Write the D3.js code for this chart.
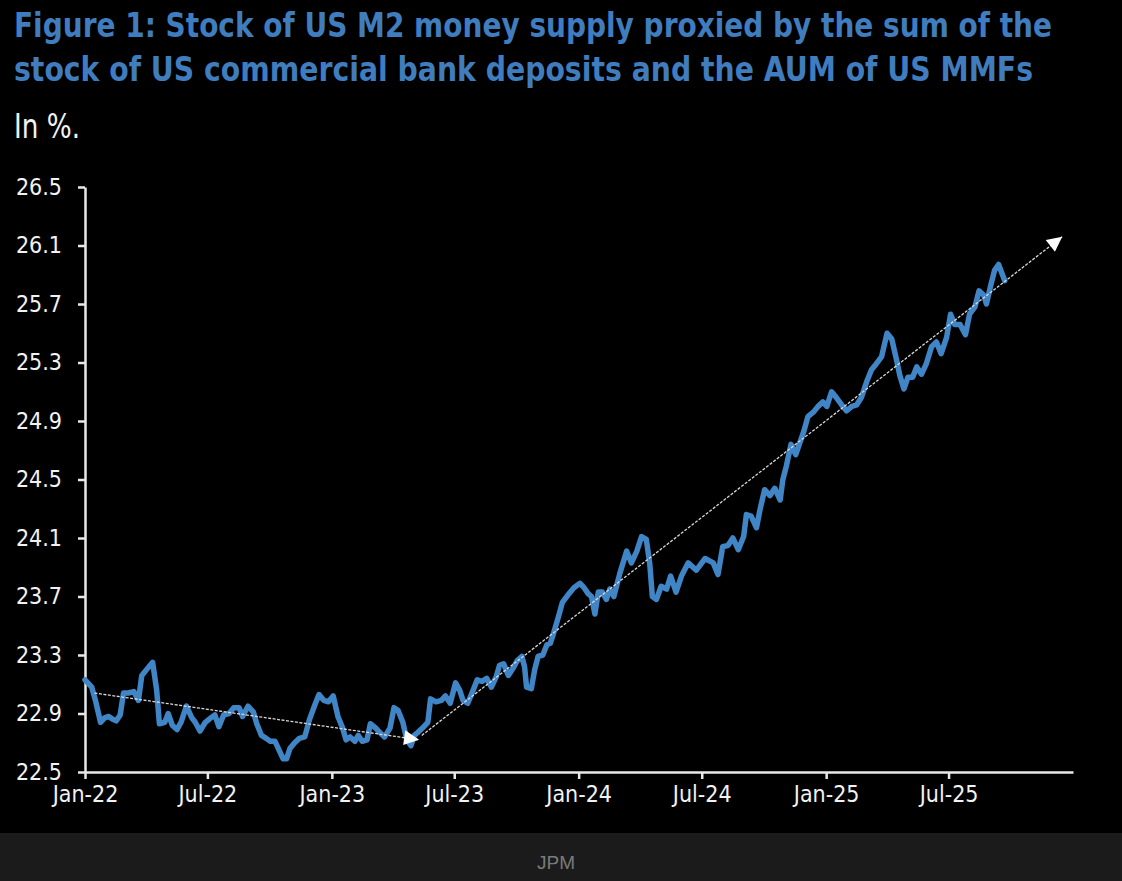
<!DOCTYPE html>
<html>
<head>
<meta charset="utf-8">
<script src="https://cdn.jsdelivr.net/npm/d3@7"></script>
<style>
  body { margin: 0; background: #000; }
  svg { display: block; }
  .narrow { font-family: "Liberation Sans Narrow", "Arial Narrow", "DejaVu Sans Condensed", sans-serif; }
</style>
</head>
<body>
<div id="chart"></div>
<script>
// Data
// =================================
var titleLines = [
  "Figure 1: Stock of US M2 money supply proxied by the sum of the",
  "stock of US commercial bank deposits and the AUM of US MMFs"
];
var subtitle = "In %.";
var source = "JPM";

var dates = [
  "2022-01-01","2022-01-11","2022-01-17","2022-01-24","2022-01-30","2022-02-05","2022-02-11","2022-02-16",
  "2022-02-22","2022-02-27","2022-03-06","2022-03-14","2022-03-21","2022-03-26","2022-04-02","2022-04-11",
  "2022-04-17","2022-04-21","2022-04-29","2022-05-04","2022-05-10","2022-05-17","2022-05-23","2022-05-31",
  "2022-06-08","2022-06-13","2022-06-20","2022-06-28","2022-07-06","2022-07-12","2022-07-18","2022-07-25",
  "2022-08-02","2022-08-09","2022-08-17","2022-08-22","2022-08-30","2022-09-07","2022-09-12","2022-09-19",
  "2022-09-26","2022-10-02","2022-10-09","2022-10-15","2022-10-21","2022-10-26","2022-10-31","2022-11-07",
  "2022-11-14","2022-11-22","2022-11-29","2022-12-07","2022-12-13","2022-12-20","2022-12-27","2023-01-03",
  "2023-01-10","2023-01-17","2023-01-22","2023-01-28","2023-02-04","2023-02-09","2023-02-15","2023-02-22",
  "2023-02-27","2023-03-07","2023-03-13","2023-03-20","2023-03-28","2023-04-03","2023-04-09","2023-04-16",
  "2023-04-22","2023-04-28","2023-05-03","2023-05-08","2023-05-17","2023-05-23","2023-05-27","2023-06-04",
  "2023-06-12","2023-06-18","2023-06-25","2023-07-03","2023-07-09","2023-07-14","2023-07-21","2023-07-29",
  "2023-08-04","2023-08-11","2023-08-18","2023-08-25","2023-09-01","2023-09-06","2023-09-12","2023-09-19",
  "2023-09-26","2023-10-02","2023-10-09","2023-10-13","2023-10-16","2023-10-23","2023-10-28","2023-11-02",
  "2023-11-09","2023-11-15","2023-11-20","2023-11-25","2023-12-02","2023-12-08","2023-12-16","2023-12-25",
  "2024-01-03","2024-01-09","2024-01-15","2024-01-20","2024-01-25","2024-01-30","2024-02-05","2024-02-11",
  "2024-02-16","2024-02-22","2024-03-02","2024-03-12","2024-03-19","2024-03-27","2024-04-03","2024-04-10",
  "2024-04-15","2024-04-19","2024-04-25","2024-05-02","2024-05-10","2024-05-16","2024-05-24","2024-06-01",
  "2024-06-11","2024-06-23","2024-07-06","2024-07-18","2024-07-25","2024-08-01","2024-08-09","2024-08-16",
  "2024-08-24","2024-09-01","2024-09-05","2024-09-12","2024-09-20","2024-09-25","2024-10-02","2024-10-10",
  "2024-10-17","2024-10-25","2024-10-29","2024-11-03","2024-11-10","2024-11-17","2024-11-23","2024-11-29",
  "2024-12-05","2024-12-13","2024-12-20","2024-12-27","2025-01-02","2025-01-09","2025-01-16","2025-01-24",
  "2025-01-31","2025-02-08","2025-02-15","2025-02-22","2025-03-02","2025-03-09","2025-03-16","2025-03-24",
  "2025-04-01","2025-04-08","2025-04-15","2025-04-20","2025-04-26","2025-05-02","2025-05-09","2025-05-15",
  "2025-05-22","2025-05-29","2025-06-06","2025-06-13","2025-06-20","2025-06-28","2025-07-04","2025-07-10",
  "2025-07-18","2025-07-26","2025-08-01","2025-08-09","2025-08-15","2025-08-22","2025-08-26","2025-09-01",
  "2025-09-07","2025-09-13","2025-09-17","2025-09-22"
];

var m2Share = [
  23.13,23.08,22.98,22.84,22.87,22.88,22.86,22.85,
  22.89,23.04,23.04,23.05,22.99,23.16,23.20,23.25,
  23.06,22.83,22.84,22.90,22.82,22.79,22.84,22.95,
  22.87,22.84,22.78,22.84,22.87,22.89,22.81,22.89,
  22.90,22.94,22.94,22.88,22.95,22.91,22.83,22.75,
  22.73,22.71,22.71,22.65,22.59,22.59,22.66,22.70,
  22.73,22.74,22.86,22.96,23.03,22.99,22.98,23.02,
  22.88,22.80,22.72,22.74,22.71,22.75,22.71,22.72,
  22.83,22.80,22.77,22.74,22.80,22.94,22.92,22.84,
  22.72,22.68,22.75,22.77,22.81,22.84,23.00,22.98,
  22.99,23.02,22.97,23.11,23.06,22.99,22.97,23.06,
  23.13,23.12,23.14,23.08,23.15,23.23,23.24,23.16,
  23.21,23.26,23.29,23.22,23.08,23.07,23.20,23.29,
  23.30,23.37,23.38,23.45,23.56,23.66,23.71,23.76,
  23.79,23.76,23.72,23.70,23.58,23.73,23.73,23.68,
  23.75,23.70,23.86,24.01,23.93,24.01,24.11,24.09,
  23.93,23.70,23.68,23.77,23.75,23.84,23.73,23.84,
  23.93,23.88,23.96,23.93,23.85,24.04,24.05,24.10,
  24.02,24.11,24.26,24.25,24.17,24.29,24.43,24.39,
  24.44,24.36,24.50,24.59,24.74,24.67,24.75,24.83,
  24.93,24.96,25.00,25.03,25.00,25.10,25.06,25.01,
  24.97,25.00,25.01,25.06,25.17,25.25,25.29,25.34,
  25.50,25.46,25.32,25.21,25.12,25.20,25.20,25.27,
  25.22,25.29,25.41,25.44,25.36,25.47,25.63,25.56,
  25.56,25.49,25.63,25.68,25.79,25.76,25.70,25.82,
  25.93,25.97,25.92,25.86
];

// trend arrows: [start, end]
var trendDates = [["2022-01-15", "2023-05-10"], ["2023-05-14", "2025-12-16"]];
var trendValues = [[23.04, 22.72], [22.75, 26.16]];

var yTicks = [22.5, 22.9, 23.3, 23.7, 24.1, 24.5, 24.9, 25.3, 25.7, 26.1, 26.5];
var xTicks = ["2022-01-01","2022-07-01","2023-01-01","2023-07-01","2024-01-01","2024-07-01","2025-01-01","2025-07-01"];
var xDomain = ["2022-01-01", "2026-01-01"];

// Step 1: Set up the chart
// =================================
var svg_width = 1122;
var svg_height = 881;
var margin = { top: 187, right: 49, bottom: 109, left: 85 };
var width = svg_width - margin.left - margin.right;
var height = svg_height - margin.top - margin.bottom;

var parseDate = d3.timeParse("%Y-%m-%d");
var lineColor = "#4085c6";
var titleColor = "#3f7dbf";

var svg = d3.select("#chart")
  .append("svg")
  .attr("width", svg_width)
  .attr("height", svg_height);

svg.append("rect")
  .attr("width", svg_width)
  .attr("height", svg_height)
  .attr("fill", "#000");

// footer band
svg.append("rect")
  .attr("y", 833)
  .attr("width", svg_width)
  .attr("height", svg_height - 833)
  .attr("fill", "#1b1b1b");

svg.append("text")
  .attr("x", 556)
  .attr("y", 869)
  .attr("text-anchor", "middle")
  .attr("font-family", "Liberation Sans, Arial, sans-serif")
  .attr("font-size", 19)
  .attr("fill", "#7a7a7a")
  .text(source);

// title + subtitle
var titleLens = [1038, 1019];
titleLines.forEach(function(t, i) {
  svg.append("text")
    .attr("class", "narrow")
    .attr("x", 14)
    .attr("y", 37 + i * 44)
    .attr("font-size", 33)
    .attr("font-weight", "bold")
    .attr("fill", titleColor)
    .attr("textLength", titleLens[i])
    .attr("lengthAdjust", "spacingAndGlyphs")
    .text(t);
});

svg.append("text")
  .attr("class", "narrow")
  .attr("x", 14)
  .attr("y", 138)
  .attr("font-size", 33)
  .attr("fill", "#f2f2f2")
  .attr("textLength", 66)
  .attr("lengthAdjust", "spacingAndGlyphs")
  .text(subtitle);

var chartGroup = svg.append("g")
  .attr("transform", `translate(${margin.left}, ${margin.top})`);

// Step 2: Scales and axes
// =================================
var xTimeScale = d3.scaleTime()
  .domain(xDomain.map(parseDate))
  .range([0, width]);

var yLinearScale = d3.scaleLinear()
  .domain([22.5, 26.5])
  .range([height, 0]);

var bottomAxis = d3.axisBottom(xTimeScale)
  .tickValues(xTicks.map(parseDate))
  .tickFormat(d3.timeFormat("%b-%y"))
  .tickSize(7)
  .tickSizeOuter(0)
  .tickPadding(7);

var leftAxis = d3.axisLeft(yLinearScale)
  .tickValues(yTicks)
  .tickFormat(d3.format(".1f"))
  .tickSize(7)
  .tickSizeOuter(0)
  .tickPadding(16);

var xAxisG = chartGroup.append("g")
  .attr("transform", `translate(0, ${height})`)
  .call(bottomAxis);

var yAxisG = chartGroup.append("g")
  .call(leftAxis);

[xAxisG, yAxisG].forEach(function(g) {
  g.select(".domain").attr("stroke", "#e8e8e8").attr("stroke-width", 2.5);
  g.selectAll(".tick line").attr("stroke", "#e8e8e8").attr("stroke-width", 2.5);
  g.selectAll(".tick text")
    .attr("class", "narrow")
    .attr("fill", "#f2f2f2")
    .attr("font-size", 23);
});

// Step 3: The series
// =================================
var series = dates.map(function(d, i) {
  return { date: parseDate(d), value: m2Share[i] };
});

var line = d3.line()
  .x(d => xTimeScale(d.date))
  .y(d => yLinearScale(d.value));

chartGroup.append("path")
  .datum(series)
  .attr("fill", "none")
  .attr("stroke", lineColor)
  .attr("stroke-width", 5.5)
  .attr("stroke-linejoin", "round")
  .attr("stroke-linecap", "round")
  .attr("d", line);

// Step 4: Trend arrows
// =================================
svg.append("defs").append("marker")
  .attr("id", "arrowhead")
  .attr("viewBox", "0 0 10 10")
  .attr("refX", 10)
  .attr("refY", 5)
  .attr("markerWidth", 19)
  .attr("markerHeight", 15)
  .attr("markerUnits", "userSpaceOnUse")
  .attr("orient", "auto")
  .append("path")
  .attr("d", "M0,0L10,5L0,10Z")
  .attr("fill", "#fff");

trendDates.forEach(function(td, i) {
  var pts = td.map(function(d, j) {
    return { date: parseDate(d), value: trendValues[i][j] };
  });
  chartGroup.append("path")
    .datum(pts)
    .attr("fill", "none")
    .attr("stroke", "#d8d8d8")
    .attr("stroke-width", 1.3)
    .attr("stroke-dasharray", "3,1.5")
    .attr("marker-end", "url(#arrowhead)")
    .attr("d", line);
});
</script>
</body>
</html>
